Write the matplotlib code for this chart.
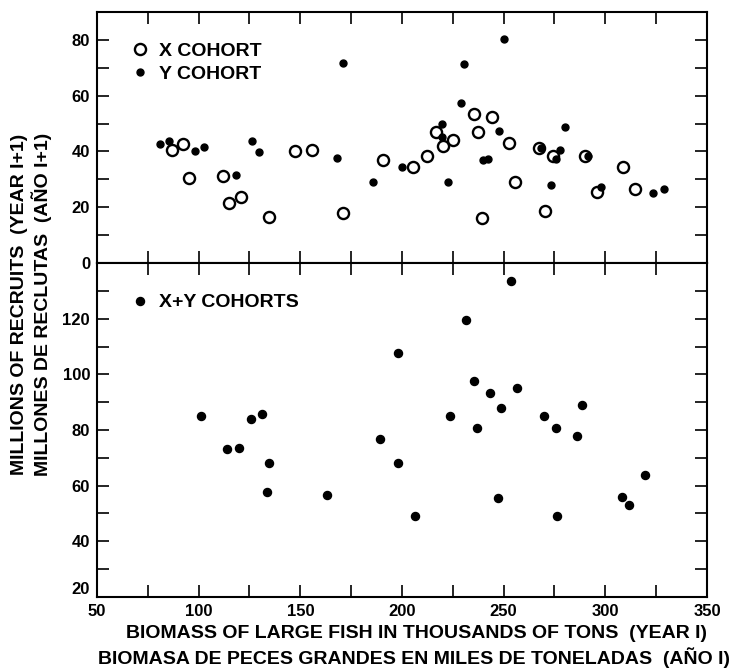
import matplotlib
matplotlib.use("Agg")
import matplotlib.pyplot as plt

# X cohort (open circles), top panel
xBiomass = [86.7, 92.4, 95.2, 111.8, 114.9, 120.7, 134.6, 147.4, 155.6, 171.1,
            190.5, 205.3, 212.5, 216.7, 220.0, 225.3, 235.4, 237.2, 244.1, 252.8,
            255.6, 239.2, 267.4, 270.3, 274.1, 290.0, 295.7, 308.5, 314.6]
xRecruits = [40.4, 42.7, 30.5, 31.1, 21.7, 23.7, 16.5, 40.1, 40.7, 18.1,
             36.8, 34.4, 38.2, 47.1, 41.9, 44.2, 53.5, 47.1, 52.3, 43.1,
             29.0, 16.0, 41.3, 18.7, 38.2, 38.2, 25.5, 34.4, 26.7]

# Y cohort (filled dots), top panel
yBiomass = [81.0, 85.4, 98.2, 102.6, 118.4, 126.4, 129.7, 168.2, 171.1, 185.9,
            200.2, 219.5, 219.5, 222.8, 228.9, 230.5, 240.0, 242.5, 247.9, 250.2,
            268.2, 273.1, 275.7, 277.7, 280.3, 291.6, 297.9, 323.6, 329.0]
yRecruits = [42.7, 43.9, 40.1, 41.5, 31.7, 43.9, 39.8, 37.7, 71.7, 29.0,
             34.6, 49.9, 45.1, 29.0, 57.3, 71.3, 37.1, 37.4, 47.3, 80.5,
             41.3, 27.8, 37.4, 40.4, 48.7, 38.2, 27.3, 25.2, 26.7]

# X+Y cohorts, bottom panel
xyBiomass = [101.0, 114.1, 120.0, 125.7, 131.0, 134.6, 133.6, 163.0, 189.3, 198.2,
             197.9, 206.4, 223.6, 231.6, 235.3, 236.9, 243.1, 248.7, 247.2, 253.6,
             256.6, 270.0, 275.9, 276.1, 286.1, 288.7, 308.0, 311.6, 319.7]
xyRecruits = [85.0, 73.0, 73.6, 84.0, 85.6, 68.2, 57.9, 56.5, 76.9, 107.7,
              68.2, 49.2, 85.1, 119.7, 97.7, 80.9, 93.2, 88.0, 55.7, 133.4,
              95.2, 85.1, 80.9, 49.1, 77.7, 89.1, 56.0, 53.2, 63.7]

xTicks = [50, 75, 100, 125, 150, 175, 200, 225, 250, 275, 300, 325, 350]
xTickLabels = ["50", "", "100", "", "150", "", "200", "", "250", "", "300", "", "350"]
topTicks = [0, 10, 20, 30, 40, 50, 60, 70, 80]
topTickLabels = ["0", "", "20", "", "40", "", "60", "", "80"]
botTicks = [20, 30, 40, 50, 60, 70, 80, 90, 100, 110, 120, 130]
botTickLabels = ["20", "", "40", "", "60", "", "80", "", "100", "", "120", ""]

plt.rcParams['font.family'] = ['Liberation Sans', 'DejaVu Sans']
plt.rcParams['font.weight'] = 'bold'

fig = plt.figure(figsize=(7.32, 6.71), dpi=100)
axTop = fig.add_axes([0.1325, 0.608, 0.8333, 0.3741])
axBot = fig.add_axes([0.1325, 0.1103, 0.8333, 0.4977])

for ax in (axTop, axBot):
    for sp in ax.spines.values():
        sp.set_linewidth(1.5)
    ax.tick_params(direction='in', length=8.5, width=1.2, top=True, right=True,
                   labelsize=12, pad=5)
    ax.set_xlim(50, 350)
    ax.set_xticks(xTicks)

# top panel
axTop.plot(xBiomass, xRecruits, linestyle='none', marker='o', markersize=8,
           markerfacecolor='white', markeredgecolor='black', markeredgewidth=1.7,
           label='X COHORT')
axTop.plot(yBiomass, yRecruits, linestyle='none', marker='o', markersize=5,
           color='black', label='Y COHORT')
axTop.set_ylim(0, 90)
axTop.set_yticks(topTicks)
axTop.set_yticklabels(topTickLabels)
axTop.set_xticklabels([])
axTop.legend(loc='upper left', bbox_to_anchor=(0.054, 0.88), frameon=False,
             fontsize=14, handlelength=1.0, handletextpad=0.5, borderpad=0,
             borderaxespad=0, labelspacing=0.3)

# bottom panel
axBot.plot(xyBiomass, xyRecruits, linestyle='none', marker='o', markersize=5.8,
           color='black', label='X+Y COHORTS')
axBot.set_ylim(20, 140)
axBot.set_yticks(botTicks)
axBot.set_yticklabels(botTickLabels)
axBot.set_xticklabels(xTickLabels)
axBot.get_yticklabels()[0].set_verticalalignment('bottom')
axBot.legend(loc='upper left', bbox_to_anchor=(0.054, 0.908), frameon=False,
             fontsize=14, handlelength=1.0, handletextpad=0.5, borderpad=0,
             borderaxespad=0)

fig.text(416/732, 1 - 634/671, "BIOMASS OF LARGE FISH IN THOUSANDS OF TONS  (YEAR I)",
         ha='center', va='center', fontsize=14, fontweight='bold')
fig.text(414/732, 1 - 658/671, "BIOMASA DE PECES GRANDES EN MILES DE TONELADAS  (AÑO I)",
         ha='center', va='center', fontsize=14, fontweight='bold')
fig.text(20/732, 1 - 304/671, "MILLIONS OF RECRUITS  (YEAR I+1)",
         ha='center', va='center', rotation=90, fontsize=14, fontweight='bold')
fig.text(42/732, 1 - 304/671, "MILLONES DE RECLUTAS  (AÑO I+1)",
         ha='center', va='center', rotation=90, fontsize=14, fontweight='bold')

fig.savefig("out.png", dpi=100)
print("done")
